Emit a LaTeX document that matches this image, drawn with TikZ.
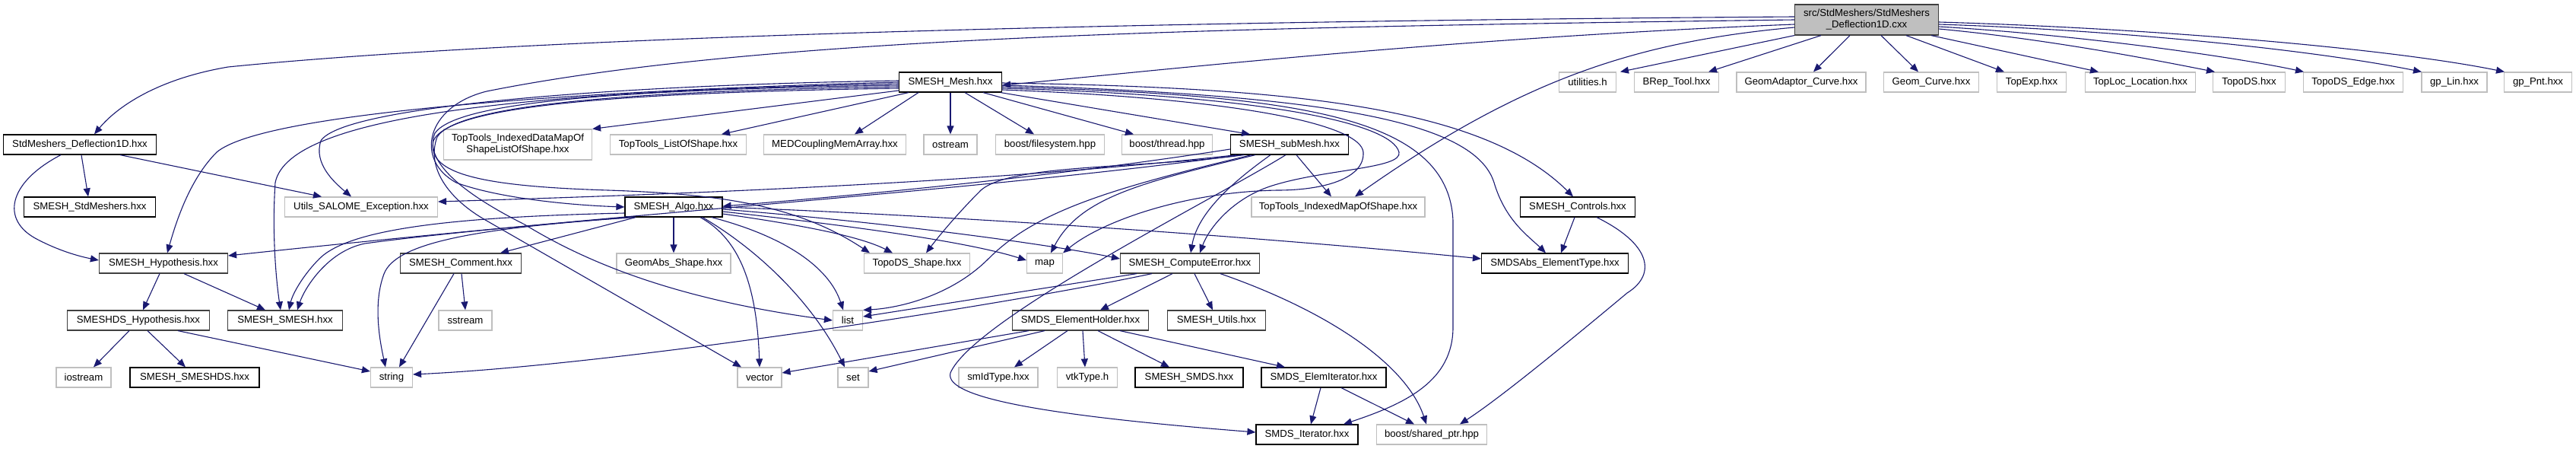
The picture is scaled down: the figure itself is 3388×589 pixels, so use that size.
\documentclass[tikz,border=0pt]{standalone}
\usepackage{fontspec}
\setmainfont{Liberation Sans}
\usetikzlibrary{arrows.meta}
\definecolor{eblue}{HTML}{191970}
\definecolor{lgray}{HTML}{BFBFBF}
\definecolor{dgray}{HTML}{404040}
\tikzset{
  box/.style={rectangle, inner sep=0pt, minimum height=26pt, fill=white, line width=1.2pt,
    font=\fontsize{13.2pt}{15pt}\selectfont},
  doc/.style={box, draw=black},
  ext/.style={box, draw=lgray},
  rootbox/.style={box, draw=dgray, fill=lgray, minimum height=40pt, align=center},
  e/.style={draw=eblue, line width=1.1pt, -{Triangle[length=11pt,width=9pt]}},
}
\begin{document}
\begin{tikzpicture}[x=1pt,y=-1pt]
\useasboundingbox (0,0) rectangle (3388,589);
% row 1
\node[rootbox, minimum width=189pt] (main) at (2455,26) {src/StdMeshers/StdMeshers\\\_Deflection1D.cxx};
% row 2
\node[doc, minimum width=135pt] (mesh) at (1250,108) {SMESH\_Mesh.hxx};
\node[ext, minimum width=75pt] (util) at (2088,108) {utilities.h};
\node[ext, minimum width=111pt] (brep) at (2205,108) {BRep\_Tool.hxx};
\node[ext, minimum width=170pt] (gac) at (2369,108) {GeomAdaptor\_Curve.hxx};
\node[ext, minimum width=125pt] (gc) at (2540,108) {Geom\_Curve.hxx};
\node[ext, minimum width=91pt] (texp) at (2672,108) {TopExp.hxx};
\node[ext, minimum width=145pt] (tloc) at (2815,108) {TopLoc\_Location.hxx};
\node[ext, minimum width=95pt] (tds) at (2958,108) {TopoDS.hxx};
\node[ext, minimum width=131pt] (tdse) at (3095,108) {TopoDS\_Edge.hxx};
\node[ext, minimum width=86pt] (glin) at (3228,108) {gp\_Lin.hxx};
\node[ext, minimum width=89pt] (gpnt) at (3338,108) {gp\_Pnt.hxx};
% row 3
\node[doc, minimum width=201pt] (defl) at (105,190) {StdMeshers\_Deflection1D.hxx};
\node[ext, minimum width=195pt, minimum height=40pt, align=center] (ttidm) at (681,190) {TopTools\_IndexedDataMapOf\\ShapeListOfShape.hxx};
\node[ext, minimum width=179pt] (ttlos) at (892,190) {TopTools\_ListOfShape.hxx};
\node[ext, minimum width=187pt] (medc) at (1098,190) {MEDCouplingMemArray.hxx};
\node[ext, minimum width=70pt] (ostr) at (1250,190) {ostream};
\node[ext, minimum width=143pt] (bfs) at (1381,190) {boost/filesystem.hpp};
\node[ext, minimum width=119pt] (bth) at (1535,190) {boost/thread.hpp};
\node[doc, minimum width=155pt] (sub) at (1696,190) {SMESH\_subMesh.hxx};
% row 4
\node[doc, minimum width=173pt] (stdm) at (118,272) {SMESH\_StdMeshers.hxx};
\node[ext, minimum width=201pt] (utils) at (475,272) {Utils\_SALOME\_Exception.hxx};
\node[doc, minimum width=128pt] (algo) at (886,272) {SMESH\_Algo.hxx};
\node[ext, minimum width=228pt] (ttim) at (1760,272) {TopTools\_IndexedMapOfShape.hxx};
\node[doc, minimum width=151pt] (ctrl) at (2075,272) {SMESH\_Controls.hxx};
% row 5
\node[doc, draw=dgray, minimum width=169pt] (hyp) at (215,346) {SMESH\_Hypothesis.hxx};
\node[doc, draw=dgray, minimum width=159pt] (comm) at (606,346) {SMESH\_Comment.hxx};
\node[ext, minimum width=150pt] (gabs) at (886,346) {GeomAbs\_Shape.hxx};
\node[ext, minimum width=139pt] (tdsh) at (1206,346) {TopoDS\_Shape.hxx};
\node[ext, minimum width=47pt] (map) at (1374,346) {map};
\node[doc, draw=dgray, minimum width=183pt] (cerr) at (1565,346) {SMESH\_ComputeError.hxx};
\node[doc, minimum width=193pt] (sdabs) at (2045,346) {SMDSAbs\_ElementType.hxx};
% row 6
\node[doc, draw=dgray, minimum width=187pt] (dshyp) at (182,421) {SMESHDS\_Hypothesis.hxx};
\node[doc, draw=dgray, minimum width=151pt] (smesh) at (375,421) {SMESH\_SMESH.hxx};
\node[ext, minimum width=70pt] (sstr) at (612,421) {sstream};
\node[ext, minimum width=39pt] (list) at (1115,421) {list};
\node[doc, draw=dgray, minimum width=179pt] (eholder) at (1421,421) {SMDS\_ElementHolder.hxx};
\node[doc, draw=dgray, minimum width=129pt] (sutil) at (1600,421) {SMESH\_Utils.hxx};
% row 7
\node[ext, minimum width=72pt] (iostr) at (110,496) {iostream};
\node[doc, minimum width=170pt] (smeshds) at (256,496) {SMESH\_SMESHDS.hxx};
\node[ext, minimum width=55pt] (string) at (515,496) {string};
\node[ext, minimum width=58pt] (vector) at (999,496) {vector};
\node[ext, minimum width=40pt] (set) at (1122,496) {set};
\node[ext, minimum width=104pt] (smid) at (1313,496) {smIdType.hxx};
\node[ext, minimum width=79pt] (vtk) at (1430,496) {vtkType.h};
\node[doc, minimum width=142pt] (ssmds) at (1564,496) {SMESH\_SMDS.hxx};
\node[doc, minimum width=164pt] (eiter) at (1741,496) {SMDS\_ElemIterator.hxx};
% row 8
\node[doc, minimum width=134pt] (iter) at (1719,571) {SMDS\_Iterator.hxx};
\node[ext, minimum width=145pt] (shptr) at (1883,571) {boost/shared\_ptr.hpp};

% ---- edges from main
\draw[e] ([yshift=4pt]main.west) .. controls (1500,28) and (700,48) .. (300,88) .. controls (200,105) and (150,145) .. ([xshift=19pt]defl.north);
\draw[e] (main.west) .. controls (1600,36) and (1000,48) .. (640,120) .. controls (560,140) and (545,210) .. (600,240) .. controls (660,262) and (760,270) .. (algo.west);
\draw[e] ([yshift=-6pt]main.west) .. controls (1900,50) and (1500,95) .. ([yshift=-4pt]mesh.east);
\draw[e] ([yshift=-10pt]main.west) .. controls (2150,55) and (2000,105) .. ([xshift=22pt]ttim.north);
\draw[e] (main.south west) -- ([xshift=43pt]util.north);
\draw[e] ([xshift=-60pt]main.south) -- ([xshift=42pt]brep.north);
\draw[e] ([xshift=-22pt]main.south) -- ([xshift=16pt]gac.north);
\draw[e] ([xshift=19pt]main.south) -- ([xshift=-17pt]gc.north);
\draw[e] ([xshift=52pt]main.south) -- ([xshift=-36pt]texp.north);
\draw[e] ([xshift=85pt]main.south) -- ([xshift=-55pt]tloc.north);
\draw[e] ([yshift=-12pt]main.east) .. controls (2700,52) and (2850,82) .. ([xshift=-45pt]tds.north);
\draw[e] ([yshift=-9pt]main.east) .. controls (2750,47) and (2950,77) .. ([xshift=-65pt]tdse.north);
\draw[e] ([yshift=-6pt]main.east) .. controls (2800,40) and (3050,67) .. ([xshift=-43pt]glin.north);
\draw[e] ([yshift=-3pt]main.east) .. controls (2850,38) and (3150,65) .. ([xshift=-44pt]gpnt.north);

% ---- edges from SMESH_Mesh
\draw[e] ([yshift=-11pt]mesh.west) -- (ttidm.north east);
\draw[e] ([xshift=-55pt]mesh.south) -- ([xshift=57pt]ttlos.north);
\draw[e] ([xshift=-42pt]mesh.south) -- ([xshift=26pt]medc.north);
\draw[e] (mesh.south) -- (ostr.north);
\draw[e] ([xshift=19pt]mesh.south) -- ([xshift=-21pt]bfs.north);
\draw[e] ([xshift=43pt]mesh.south) -- ([xshift=-44pt]bth.north);
\draw[e] ([xshift=66pt]mesh.south) -- ([xshift=-52pt]sub.north);
\draw[e] ([yshift=-1pt]mesh.east) .. controls (1700,115) and (1950,140) .. ([xshift=-6pt]ctrl.north);
\draw[e] ([yshift=-4pt]mesh.east) .. controls (1750,125) and (1940,160) .. (1965,240) .. controls (1980,290) and (2010,310) .. ([xshift=-12pt]sdabs.north);
\draw[e] ([yshift=-6pt]mesh.east) .. controls (1700,125) and (1905,150) .. (1911,290) -- (1911,430) .. controls (1911,500) and (1850,530) .. ([xshift=48pt]iter.north);
\draw[e] ([yshift=-8pt]mesh.east) .. controls (1650,125) and (1830,160) .. (1840,200) .. controls (1845,222) and (1740,222) .. (1670,245) .. controls (1620,262) and (1590,300) .. ([xshift=13pt]cerr.north);
\draw[e] ([yshift=-10pt]mesh.east) .. controls (1640,130) and (1790,165) .. (1793,200) .. controls (1795,235) and (1740,250) .. (1680,250) .. controls (1560,252) and (1450,290) .. (map.north east);
\draw[e] ([yshift=2pt]mesh.west) .. controls (800,112) and (450,140) .. (422,185) .. controls (412,215) and (440,240) .. ([xshift=-13pt]utils.north);
\draw[e] (mesh.west) .. controls (800,118) and (350,145) .. (285,200) .. controls (250,235) and (232,290) .. ([xshift=5pt]hyp.north);
\draw[e] ([yshift=-2pt]mesh.west) .. controls (700,120) and (380,150) .. (362,240) .. controls (358,300) and (362,360) .. ([xshift=-6pt]smesh.north);
\draw[e] ([yshift=-4pt]mesh.west) .. controls (800,118) and (600,135) .. (572,175) .. controls (555,215) and (620,260) .. (690,295) .. controls (780,350) and (900,395) .. (list.west);
\draw[e] ([yshift=-6pt]mesh.west) .. controls (800,120) and (600,140) .. (575,180) .. controls (560,220) and (590,262) .. (640,290) -- ([xshift=-24pt]vector.north);
\draw[e] ([yshift=-8pt]mesh.west) .. controls (800,122) and (590,140) .. (570,185) .. controls (560,230) and (640,245) .. (800,250) .. controls (950,255) and (1050,270) .. ([xshift=-62pt]tdsh.north);

% ---- edges from SMESH_Algo
\draw[e] ([xshift=-58pt]algo.south) .. controls (700,295) and (450,320) .. ([yshift=10pt]hyp.east);
\draw[e] ([yshift=-8pt]algo.west) .. controls (600,285) and (460,300) .. (420,340) .. controls (400,360) and (385,385) .. ([xshift=5pt]smesh.north);
\draw[e] ([xshift=-52pt]algo.south) .. controls (620,300) and (520,320) .. (505,360) .. controls (490,400) and (500,450) .. ([xshift=-8pt]string.north);
\draw[e] ([xshift=-50pt]algo.south) -- ([xshift=52pt]comm.north);
\draw[e] (algo.south) -- (gabs.north);
\draw[e] ([xshift=35pt]algo.south) .. controls (965,310) and (995,360) .. (vector.north);
\draw[e] ([xshift=38pt]algo.south) .. controls (1000,330) and (1070,400) .. ([xshift=-11pt]set.north);
\draw[e] ([xshift=50pt]algo.south) .. controls (1030,310) and (1090,350) .. ([xshift=-6pt]list.north);
\draw[e] ([yshift=-9pt]algo.east) .. controls (1050,295) and (1130,310) .. ([xshift=-32pt]tdsh.north);
\draw[e] ([yshift=-6pt]algo.east) .. controls (1150,300) and (1280,320) .. ([yshift=4pt]map.west);
\draw[e] ([yshift=-3pt]algo.east) .. controls (1200,295) and (1400,325) .. ([yshift=6pt]cerr.west);
\draw[e] (algo.east) .. controls (1400,290) and (1800,325) .. ([yshift=6pt]sdabs.west);

% ---- edges from SMESH_subMesh
\draw[e] ([yshift=-6pt]sub.west) .. controls (1400,230) and (1150,255) .. ([yshift=1pt]algo.east);
\draw[e] ([xshift=-70pt]sub.south) .. controls (1300,240) and (900,255) .. ([yshift=7pt]utils.east);
\draw[e] ([xshift=-65pt]sub.south) .. controls (1300,250) and (700,290) .. (480,320) .. controls (430,330) and (400,380) .. ([xshift=16pt]smesh.north);
\draw[e] ([xshift=9pt]sub.south) -- ([xshift=-9pt]ttim.north);
\draw[e] ([xshift=-60pt]sub.south) .. controls (1500,222) and (1330,215) .. (1290,250) .. controls (1260,280) and (1235,310) .. ([xshift=12pt]tdsh.north);
\draw[e] ([xshift=-50pt]sub.south) .. controls (1450,250) and (1360,280) .. (1300,340) .. controls (1250,390) and (1180,405) .. (list.north east);
\draw[e] ([xshift=-45pt]sub.south) .. controls (1500,240) and (1420,260) .. ([xshift=8pt]map.north);
\draw[e] ([xshift=-25pt]sub.south) .. controls (1620,240) and (1575,280) .. ([xshift=1pt]cerr.north);
\draw[e] ([xshift=-5pt]sub.south) .. controls (1600,260) and (1280,420) .. (1250,490) .. controls (1240,525) and (1400,548) .. ([yshift=3pt]iter.west);

% ---- edges from SMESH_ComputeError
\draw[e] ([xshift=-70pt]cerr.south) -- ([yshift=5pt]list.east);
\draw[e] ([xshift=-50pt]cerr.south) .. controls (1300,405) and (800,480) .. ([yshift=4pt]string.east);
\draw[e] ([xshift=-23pt]cerr.south) -- ([xshift=26pt]eholder.north);
\draw[e] ([xshift=6pt]cerr.south) -- ([xshift=-5pt]sutil.north);
\draw[e] ([xshift=40pt]cerr.south) .. controls (1750,410) and (1850,480) .. ([xshift=-7pt]shptr.north);

% ---- edges from SMDS_ElementHolder
\draw[e] ([xshift=-68pt]eholder.south) -- ([yshift=6pt]vector.east);
\draw[e] ([xshift=-47pt]eholder.south) -- ([yshift=8pt]set.east);
\draw[e] ([xshift=-17pt]eholder.south) -- ([xshift=21pt]smid.north);
\draw[e] ([xshift=3pt]eholder.south) -- ([xshift=-3pt]vtk.north);
\draw[e] ([xshift=23pt]eholder.south) -- ([xshift=-26pt]ssmds.north);
\draw[e] ([xshift=52pt]eholder.south) -- ([xshift=-51pt]eiter.north);

% ---- edges from SMDS_ElemIterator
\draw[e] ([xshift=-4pt]eiter.south) -- ([xshift=5pt]iter.north);
\draw[e] ([xshift=23pt]eiter.south) -- ([xshift=-23pt]shptr.north);

% ---- edges from SMESH_Controls
\draw[e] ([xshift=-4pt]ctrl.south) -- ([xshift=8pt]sdabs.north);
\draw[e] ([xshift=25pt]ctrl.south) .. controls (2170,320) and (2180,360) .. (2140,385) .. controls (2050,460) and (1970,525) .. ([xshift=37pt]shptr.north);

% ---- hypothesis chain
\draw[e] ([xshift=-5pt]hyp.south) -- ([xshift=6pt]dshyp.north);
\draw[e] ([xshift=27pt]hyp.south) -- ([xshift=-26pt]smesh.north);
\draw[e] ([xshift=-12pt]dshyp.south) -- ([xshift=13pt]iostr.north);
\draw[e] ([xshift=12pt]dshyp.south) -- ([xshift=-12pt]smeshds.north);
\draw[e] ([xshift=52pt]dshyp.south) -- ([yshift=8pt]string.west);
\draw[e] ([xshift=1pt]comm.south) -- (sstr.north);
\draw[e] ([xshift=-9pt]comm.south) -- ([xshift=10pt]string.north);

% ---- edges from StdMeshers_Deflection1D.hxx
\draw[e] ([xshift=2pt]defl.south) -- ([xshift=-2pt]stdm.north);
\draw[e] ([xshift=53pt]defl.south) -- ([xshift=-52pt]utils.north);
\draw[e] ([xshift=-25pt]defl.south) .. controls (10,240) and (0,290) .. (50,315) .. controls (75,328) and (100,336) .. ([yshift=4pt]hyp.west);
\end{tikzpicture}
\end{document}
